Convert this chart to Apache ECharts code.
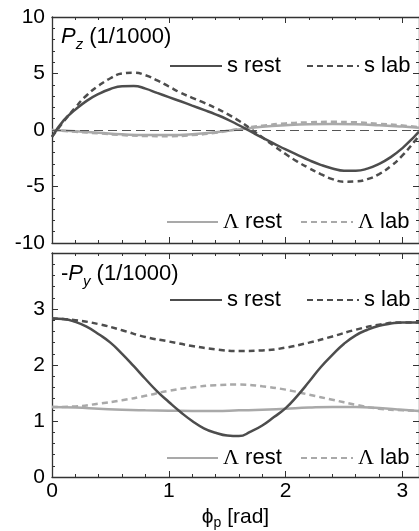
<!DOCTYPE html>
<html>
<head>
<meta charset="utf-8">
<script src="https://cdn.jsdelivr.net/npm/echarts@6/dist/echarts.min.js"></script>
<style>html,body{margin:0;padding:0;background:#fff}#c{width:419px;height:531px}</style>
</head>
<body>
<div id="c"></div>
<script>
// ---- data ----
const phiFine = [0, 0.1, 0.2, 0.3, 0.4, 0.5, 0.6, 0.7, 0.8, 0.9, 1.0, 1.1, 1.2, 1.3, 1.4, 1.5, 1.6,
                 1.7, 1.8, 1.9, 2.0, 2.1, 2.2, 2.3, 2.4, 2.5, 2.6, 2.7, 2.8, 2.9, 3.0, 3.1, 3.1416];
const phi = [0, 0.2, 0.4, 0.6, 0.8, 1.0, 1.2, 1.4, 1.6, 1.8, 2.0, 2.2, 2.4, 2.6, 2.8, 3.0, 3.1416];
// P_z (1/1000)
const sRestTop = [-0.6, 0.85, 1.8, 2.6, 3.2, 3.63, 3.87, 3.9, 3.66, 3.28, 2.91, 2.54, 2.16, 1.78, 1.39, 0.95, 0.42,
                  -0.13, -0.68, -1.2, -1.72, -2.2, -2.67, -3.08, -3.4, -3.6, -3.6, -3.42, -3.0, -2.4, -1.6, -0.6, -0.15];
const sLabTop  = [-0.6, 0.75, 2.0, 3.1, 3.92, 4.58, 5.0, 5.07, 4.85, 4.4, 3.85, 3.3, 2.85, 2.42, 1.95, 1.42, 0.82,
                  0.1, -0.65, -1.4, -2.13, -2.8, -3.37, -3.9, -4.35, -4.57, -4.55, -4.35, -3.9, -3.2, -2.25, -1.05, -0.5];
const lRestTop = [0, -0.12, -0.25, -0.38, -0.45, -0.45, -0.38, -0.2, 0.05, 0.28, 0.42, 0.5, 0.52, 0.5, 0.42, 0.3, 0.2];
const lLabTop  = [0, -0.15, -0.3, -0.45, -0.53, -0.55, -0.45, -0.25, 0.1, 0.38, 0.58, 0.68, 0.72, 0.68, 0.55, 0.4, 0.25];
// -P_y (1/1000)
const sRestBot = [2.83, 2.82, 2.77, 2.68, 2.55, 2.4, 2.2, 1.98, 1.75, 1.53, 1.34, 1.16, 1.0, 0.87, 0.79, 0.74, 0.73,
                  0.81, 0.92, 1.07, 1.23, 1.45, 1.7, 1.96, 2.18, 2.38, 2.53, 2.63, 2.7, 2.74, 2.76, 2.76, 2.76];
const sLabBot  = [2.83, 2.8, 2.73, 2.62, 2.5, 2.42, 2.34, 2.28, 2.25, 2.26, 2.31, 2.4, 2.51, 2.63, 2.72, 2.76, 2.76];
const lRestBot = [1.25, 1.24, 1.22, 1.2, 1.19, 1.185, 1.18, 1.18, 1.19, 1.2, 1.22, 1.24, 1.25, 1.25, 1.23, 1.2, 1.18];
const lLabBot  = [1.25, 1.26, 1.31, 1.37, 1.45, 1.54, 1.6, 1.64, 1.65, 1.62, 1.56, 1.47, 1.38, 1.29, 1.22, 1.19, 1.18];
const xTicks = [0, 1, 2, 3];
const yTopTicks = [-10, -5, 0, 5, 10];
const yBotTicks = [0, 1, 2, 3];
const names = ['s rest', 's lab', 'Λ rest', 'Λ lab'];

// ---- styles ----
const FONT = 'Liberation Sans, Arial, sans-serif';
const DARK = '#4d4d4d', LIGHT = '#a9a9a9', AX = '#333';
const zip = (xs, ys) => xs.map((x, i) => [x, ys[i]]);

function xAx(grid, pos, labels) {
  return {
    type: 'value', gridIndex: grid, position: pos, min: 0, max: Math.PI, interval: 1,
    axisLine: {show: true, onZero: false, lineStyle: {color: AX, width: 1.3}},
    axisTick: {show: true, inside: true, length: 6, lineStyle: {color: AX, width: 1}},
    minorTick: {show: true, splitNumber: 5, length: 3, lineStyle: {color: AX, width: 1}},
    splitLine: {show: false},
    axisLabel: {show: labels, fontSize: 21, color: '#000', fontFamily: FONT, margin: 4, showMaxLabel: false,
      formatter: v => xTicks.includes(v) ? String(v) : ''},
    name: labels ? '{a|ϕ}{s|p}{a| [rad]}' : '',
    nameLocation: 'middle', nameGap: 27,
    nameTextStyle: {fontFamily: FONT, color: '#000', rich: {
      a: {fontSize: 21, fontFamily: FONT, color: '#000', lineHeight: 26},
      s: {fontSize: 14, fontFamily: FONT, color: '#000', lineHeight: 14, verticalAlign: 'bottom'}}}
  };
}
function yAx(grid, pos, mn, mx, iv, ticks, labels) {
  return {
    type: 'value', gridIndex: grid, position: pos, min: mn, max: mx, interval: iv,
    axisLine: {show: true, onZero: false, lineStyle: {color: AX, width: 1.3}},
    axisTick: {show: true, inside: true, length: 6, lineStyle: {color: AX, width: 1}},
    minorTick: {show: true, splitNumber: 5, length: 3, lineStyle: {color: AX, width: 1}},
    splitLine: {show: false},
    axisLabel: {show: labels, fontSize: 21, color: '#000', fontFamily: FONT, margin: 7,
      formatter: v => ticks.includes(v) ? String(v) : ''}
  };
}
function line(name, xi, yi, data, color, dashed, z) {
  return {
    name, type: 'line', xAxisIndex: xi, yAxisIndex: yi, data, smooth: 0.5, symbol: 'none', showSymbol: false,
    lineStyle: {color, width: 2.5, type: dashed ? [6, 4] : 'solid'}, itemStyle: {color}, z,
    emphasis: {disabled: true}, silent: true
  };
}
const legendBase = {orient: 'horizontal', padding: 0, itemHeight: 14, selectedMode: false,
  itemStyle: {opacity: 0},
  textStyle: {fontSize: 22, fontFamily: FONT, color: '#000', lineHeight: 24,
    rich: {g: {fontSize: 22, fontFamily: 'Liberation Serif, serif', color: '#000', lineHeight: 24}}},
  formatter: n => n.replace('Λ', '{g|Λ}')};
function leg(name, left, cy, w) {
  return Object.assign({}, legendBase, {data: [name], left, top: cy - 12, itemWidth: w});
}
const subRich = {
  n: {fontSize: 22, fontFamily: FONT, fontWeight: 'normal', color: '#000', lineHeight: 30},
  i: {fontSize: 22, fontFamily: FONT, fontWeight: 'normal', fontStyle: 'italic', color: '#000', lineHeight: 30},
  s: {fontSize: 15, fontFamily: FONT, fontWeight: 'normal', fontStyle: 'italic', color: '#000', lineHeight: 15, verticalAlign: 'bottom'}
};

const option = {
  animation: false,
  backgroundColor: '#fff',
  grid: [
    {left: 52, top: 17, width: 371, height: 226},
    {left: 52, top: 253, width: 371, height: 226}
  ],
  title: [
    {text: '{i|P}{s|z}{n| (1/1000)}', left: 61, top: 22, padding: 0, textStyle: {fontWeight: 'normal', rich: subRich}},
    {text: '{n|-}{i|P}{s|y}{n| (1/1000)}', left: 61, top: 259, padding: 0, textStyle: {fontWeight: 'normal', rich: subRich}}
  ],
  legend: [
    leg(names[0], 169, 66, 52), leg(names[1], 306, 66, 52),
    leg(names[2], 166, 222, 51), leg(names[3], 300, 222, 52),
    leg(names[0], 169, 300, 52), leg(names[1], 306, 300, 52),
    leg(names[2], 166, 458, 51), leg(names[3], 300, 458, 52)
  ],
  xAxis: [xAx(0, 'bottom', false), xAx(0, 'top', false), xAx(1, 'bottom', true), xAx(1, 'top', false)],
  yAxis: [
    yAx(0, 'left', -10, 10, 5, yTopTicks, true), yAx(0, 'right', -10, 10, 5, yTopTicks, false),
    yAx(1, 'left', 0, 4, 1, yBotTicks, true), yAx(1, 'right', 0, 4, 1, yBotTicks, false)
  ],
  series: [
    Object.assign(line(names[2], 0, 0, zip(phi, lRestTop), LIGHT, false, 2), {
      markLine: {silent: true, symbol: 'none', label: {show: false},
        lineStyle: {color: '#555', width: 1, type: [9, 5]}, data: [{yAxis: 0}]}}),
    line(names[3], 0, 0, zip(phi, lLabTop), LIGHT, true, 2),
    line(names[0], 0, 0, zip(phiFine, sRestTop), DARK, false, 3),
    line(names[1], 0, 0, zip(phiFine, sLabTop), DARK, true, 3),
    line(names[2], 2, 2, zip(phi, lRestBot), LIGHT, false, 2),
    line(names[3], 2, 2, zip(phi, lLabBot), LIGHT, true, 2),
    line(names[0], 2, 2, zip(phiFine, sRestBot), DARK, false, 3),
    line(names[1], 2, 2, zip(phi, sLabBot), DARK, true, 3)
  ]
};
const chart = echarts.init(document.getElementById('c'), null, {renderer: 'canvas'});
chart.setOption(option);
</script>
</body>
</html>
